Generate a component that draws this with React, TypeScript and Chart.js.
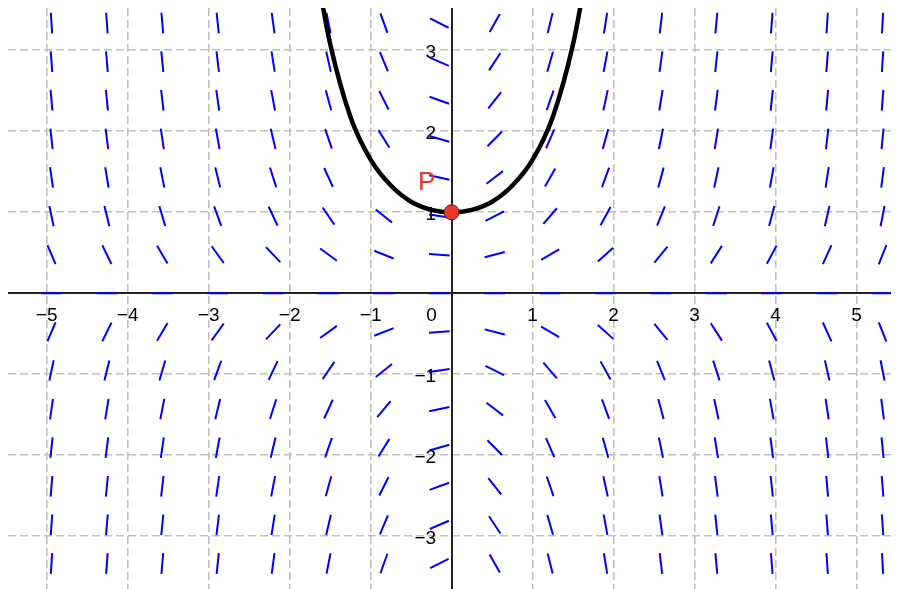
import React, { useEffect, useRef } from "react";
import { Chart, registerables } from "chart.js";

Chart.register(...registerables);

// Window of the graph (data units)
const X_MIN = -5.477;
const X_MAX = 5.523;
const Y_MIN = -3.651;
const Y_MAX = 3.522;

// Axis tick values
const xTickValues = [-5, -4, -3, -2, -1, 0, 1, 2, 3, 4, 5];
const yTickValues = [-3, -2, -1, 0, 1, 2, 3];

// Slope field: sample positions and the differential equation y' = x·y
const fieldXs = [-4.94, -4.256, -3.572, -2.888, -2.204, -1.52, -0.836, -0.152, 0.532, 1.216, 1.9, 2.584, 3.268, 3.952, 4.636, 5.32];
const fieldYs = [-3.336, -2.859, -2.383, -1.906, -1.43, -0.953, -0.477, 0, 0.477, 0.953, 1.43, 1.906, 2.383, 2.859, 3.336];
const slopeAt = (x: number, y: number) => x * y;

// Solution curve through P
const curveXs = [-1.66, -1.6, -1.5, -1.25, -1, -0.75, -0.5, -0.25, 0, 0.25, 0.5, 0.75, 1, 1.25, 1.5, 1.6, 1.66];
const curveYs = [3.97, 3.6, 3.08, 2.18, 1.65, 1.33, 1.13, 1.03, 1, 1.03, 1.13, 1.33, 1.65, 2.18, 3.08, 3.6, 3.97];

// Point P
const pointP = { x: 0, y: 1 };
const pointLabel = "P";
const originLabel = "0";

const FONT = '"Liberation Sans", Arial, Helvetica, sans-serif';
const TICK_SIZE = 19;

function fmt(v: number) {
  if (v === 0) return "";
  return v < 0 ? "\u2212" + Math.abs(v) : String(v);
}

const zeroPadding = (s: any) => {
  s.paddingTop = 0;
  s.paddingBottom = 0;
  s.paddingLeft = 0;
  s.paddingRight = 0;
};

export default function App() {
  const ref = useRef<HTMLCanvasElement | null>(null);

  useEffect(() => {
    if (!ref.current) return;

    const HALF = 0.128;
    const segData: any[] = [];
    for (const x of fieldXs) {
      for (const y of fieldYs) {
        const m = slopeAt(x, y);
        const dx = HALF / Math.sqrt(1 + m * m);
        const dy = m * dx;
        segData.push({ x: x - dx, y: y - dy });
        segData.push({ x: x + dx, y: y + dy });
        segData.push({ x: x, y: null });
      }
    }

    const curveData = curveXs.map((x, i) => ({ x, y: curveYs[i] }));

    const textPlugin = {
      id: "textPlugin",
      afterLayout(chart: any) {
        const ys = chart.scales.y;
        const items = ys.getLabelItems(chart.chartArea);
        for (const it of items) {
          it.options.translation = [it.options.translation[0] - 15.5, it.options.translation[1] + 2];
        }
      },
      beforeDatasetsDraw(chart: any) {
        const { ctx, scales } = chart;
        const px = scales.x.getPixelForValue(0);
        const py = scales.y.getPixelForValue(0);
        ctx.save();
        ctx.font = `${TICK_SIZE}px ${FONT}`;
        ctx.fillStyle = "#000";
        ctx.textAlign = "center";
        ctx.textBaseline = "middle";
        ctx.fillText(originLabel, px - 20, py + 22);
        ctx.restore();
      },
      afterDatasetsDraw(chart: any) {
        const { ctx, scales } = chart;
        const px = scales.x.getPixelForValue(pointP.x);
        const py = scales.y.getPixelForValue(pointP.y);
        ctx.save();
        ctx.font = `26px ${FONT}`;
        ctx.fillStyle = "#e8352b";
        ctx.textAlign = "center";
        ctx.textBaseline = "middle";
        ctx.fillText(pointLabel, px - 25, py - 29);
        ctx.restore();
      },
    };

    const chart = new Chart(ref.current, {
      type: "scatter",
      data: {
        datasets: [
          {
            label: "field",
            data: segData,
            showLine: true,
            spanGaps: false,
            borderColor: "#0000ff",
            borderWidth: 2,
            pointRadius: 0,
            pointHoverRadius: 0,
            order: 3,
          },
          {
            label: "curve",
            data: curveData,
            showLine: true,
            borderColor: "#000000",
            borderWidth: 4.5,
            pointRadius: 0,
            pointHoverRadius: 0,
            cubicInterpolationMode: "monotone",
            order: 2,
          },
          {
            label: "P",
            data: [pointP],
            showLine: false,
            pointRadius: 7.5,
            pointBackgroundColor: "#e8382d",
            pointBorderColor: "#6a1510",
            pointBorderWidth: 1,
            order: 1,
          },
        ],
      },
      options: {
        animation: false,
        responsive: false,
        events: [],
        layout: { padding: 0, autoPadding: false },
        plugins: {
          legend: { display: false },
          tooltip: { enabled: false },
        },
        scales: {
          x: {
            type: "linear",
            min: X_MIN,
            max: X_MAX,
            position: { y: 0 },
            afterBuildTicks: (scale: any) => {
              scale.ticks = xTickValues.map((v) => ({ value: v }));
            },
            afterFit: zeroPadding,
            grid: {
              color: "#c0c0c0",
              lineWidth: 1.6,
              drawTicks: false,
            },
            border: { display: true, color: "#222", width: 2, dash: [8, 4] },
            ticks: {
              padding: 11,
              color: "#000",
              font: { family: FONT, size: TICK_SIZE },
              maxRotation: 0,
              autoSkip: false,
              callback: (v: any) => fmt(Number(v)),
            },
          },
          y: {
            type: "linear",
            min: Y_MIN,
            max: Y_MAX,
            position: { x: 0 },
            afterBuildTicks: (scale: any) => {
              scale.ticks = yTickValues.map((v) => ({ value: v }));
            },
            afterFit: zeroPadding,
            grid: {
              color: "#c0c0c0",
              lineWidth: 1.6,
              drawTicks: false,
            },
            border: { display: true, color: "#222", width: 2, dash: [8, 4] },
            ticks: {
              padding: 0,
              color: "#000",
              font: { family: FONT, size: TICK_SIZE },
              autoSkip: false,
              callback: (v: any) => fmt(Number(v)),
            },
          },
        },
      },
      plugins: [textPlugin],
    } as any);

    return () => chart.destroy();
  }, []);

  return (
    <div style={{ width: 891, height: 581 }}>
      <canvas ref={ref} width={891} height={581} style={{ display: "block" }} />
    </div>
  );
}
